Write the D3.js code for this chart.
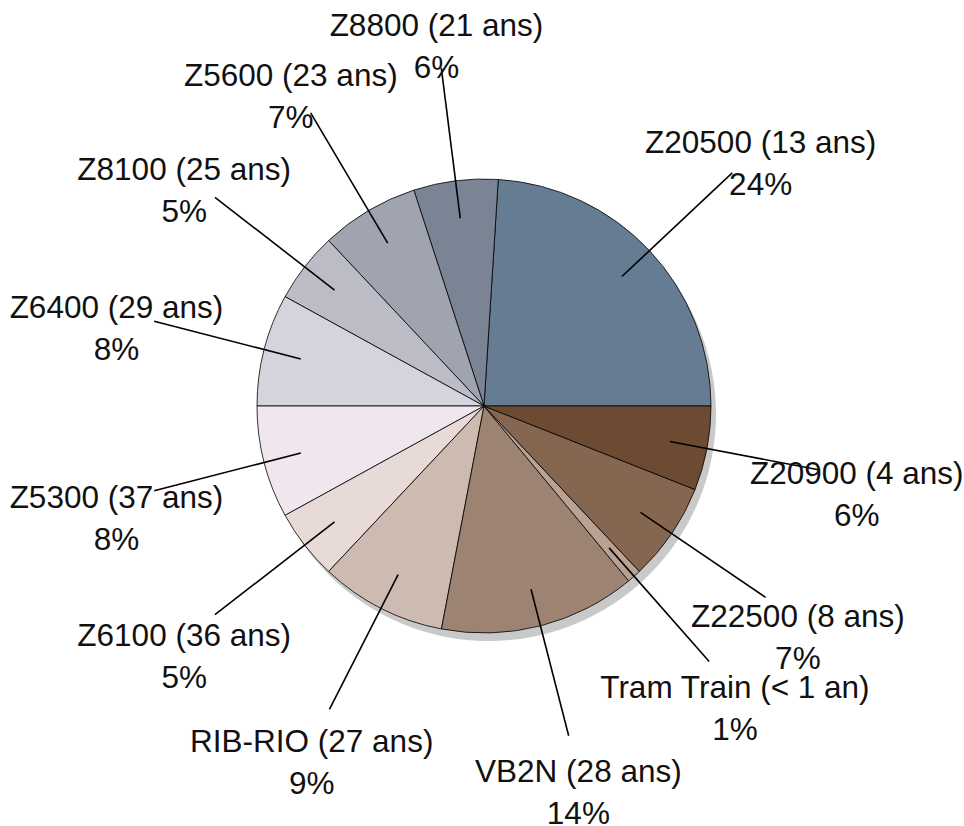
<!DOCTYPE html>
<html>
<head>
<meta charset="utf-8">
<script src="https://cdn.jsdelivr.net/npm/d3@7"></script>
<style>
  html, body { margin: 0; padding: 0; background: #ffffff; }
  svg { display: block; }
</style>
</head>
<body>
<div id="chart"></div>
<script>
const names = ["Z20500 (13 ans)", "Z8800 (21 ans)", "Z5600 (23 ans)", "Z8100 (25 ans)",
  "Z6400 (29 ans)", "Z5300 (37 ans)", "Z6100 (36 ans)", "RIB-RIO (27 ans)",
  "VB2N (28 ans)", "Tram Train (< 1 an)", "Z22500 (8 ans)", "Z20900 (4 ans)"];
const values = [24, 6, 7, 5, 8, 8, 5, 9, 14, 1, 7, 6];
const colors = ["#667c93", "#7a8494", "#a0a4b1", "#bcbcc7", "#d6d3dc", "#f0e6ee",
  "#e8dad6", "#cdbab1", "#9d8371", "#b9a294", "#856651", "#6d4b32"];

const W = 964, H = 826;
const cx = 484, cy = 406, R = 227;
const fontFamily = "'Liberation Sans', Arial, sans-serif";
const fontSize = 31.5;

const data = names.map((n, i) => ({ name: n, value: values[i], color: colors[i] }));

const svg = d3.select("#chart").append("svg")
  .attr("width", W).attr("height", H);

const g = svg.append("g").attr("transform", `translate(${cx},${cy})`);

const pie = d3.pie().value(d => d.value).sort(null)
  .startAngle(Math.PI / 2).endAngle(Math.PI / 2 - 2 * Math.PI);
const arcs = pie(data);
const arc = d3.arc().innerRadius(0).outerRadius(R);

// drop shadow
g.append("circle")
  .attr("cx", 5).attr("cy", 8).attr("r", R)
  .attr("fill", "#c9c9c9");

g.selectAll("path.slice").data(arcs).join("path")
  .attr("class", "slice")
  .attr("d", arc)
  .attr("fill", d => d.data.color)
  .attr("stroke", "#000")
  .attr("stroke-width", 0.8)
  .attr("stroke-linejoin", "round");

const polar = (a, r) => [r * Math.sin(a), -r * Math.cos(a)];
const mid = d => (d.startAngle + d.endAngle) / 2;

g.selectAll("line.leader").data(arcs).join("line")
  .attr("class", "leader")
  .attr("x1", d => polar(mid(d), R * 5 / 6)[0])
  .attr("y1", d => polar(mid(d), R * 5 / 6)[1])
  .attr("x2", d => polar(mid(d), R * 1.5)[0])
  .attr("y2", d => polar(mid(d), R * 1.5)[1])
  .attr("stroke", "#000")
  .attr("stroke-width", 1.6);

const total = d3.sum(values);
const labels = g.selectAll("text.lbl").data(arcs).join("text")
  .attr("class", "lbl")
  .attr("text-anchor", "middle")
  .attr("font-family", fontFamily)
  .attr("font-size", fontSize)
  .attr("fill", "#111");

labels.each(function(d) {
  const m = mid(d);
  const [ox, oy] = polar(m, R * 1.5);
  const x = ox + 39 * Math.sin(m);
  const y = oy + 7 - 40 * Math.cos(m);
  const t = d3.select(this);
  t.append("tspan").attr("x", x).attr("y", y).text(d.data.name);
  t.append("tspan").attr("x", x).attr("y", y + 42)
    .text(Math.round(d.data.value / total * 100) + "%");
});
</script>
</body>
</html>
